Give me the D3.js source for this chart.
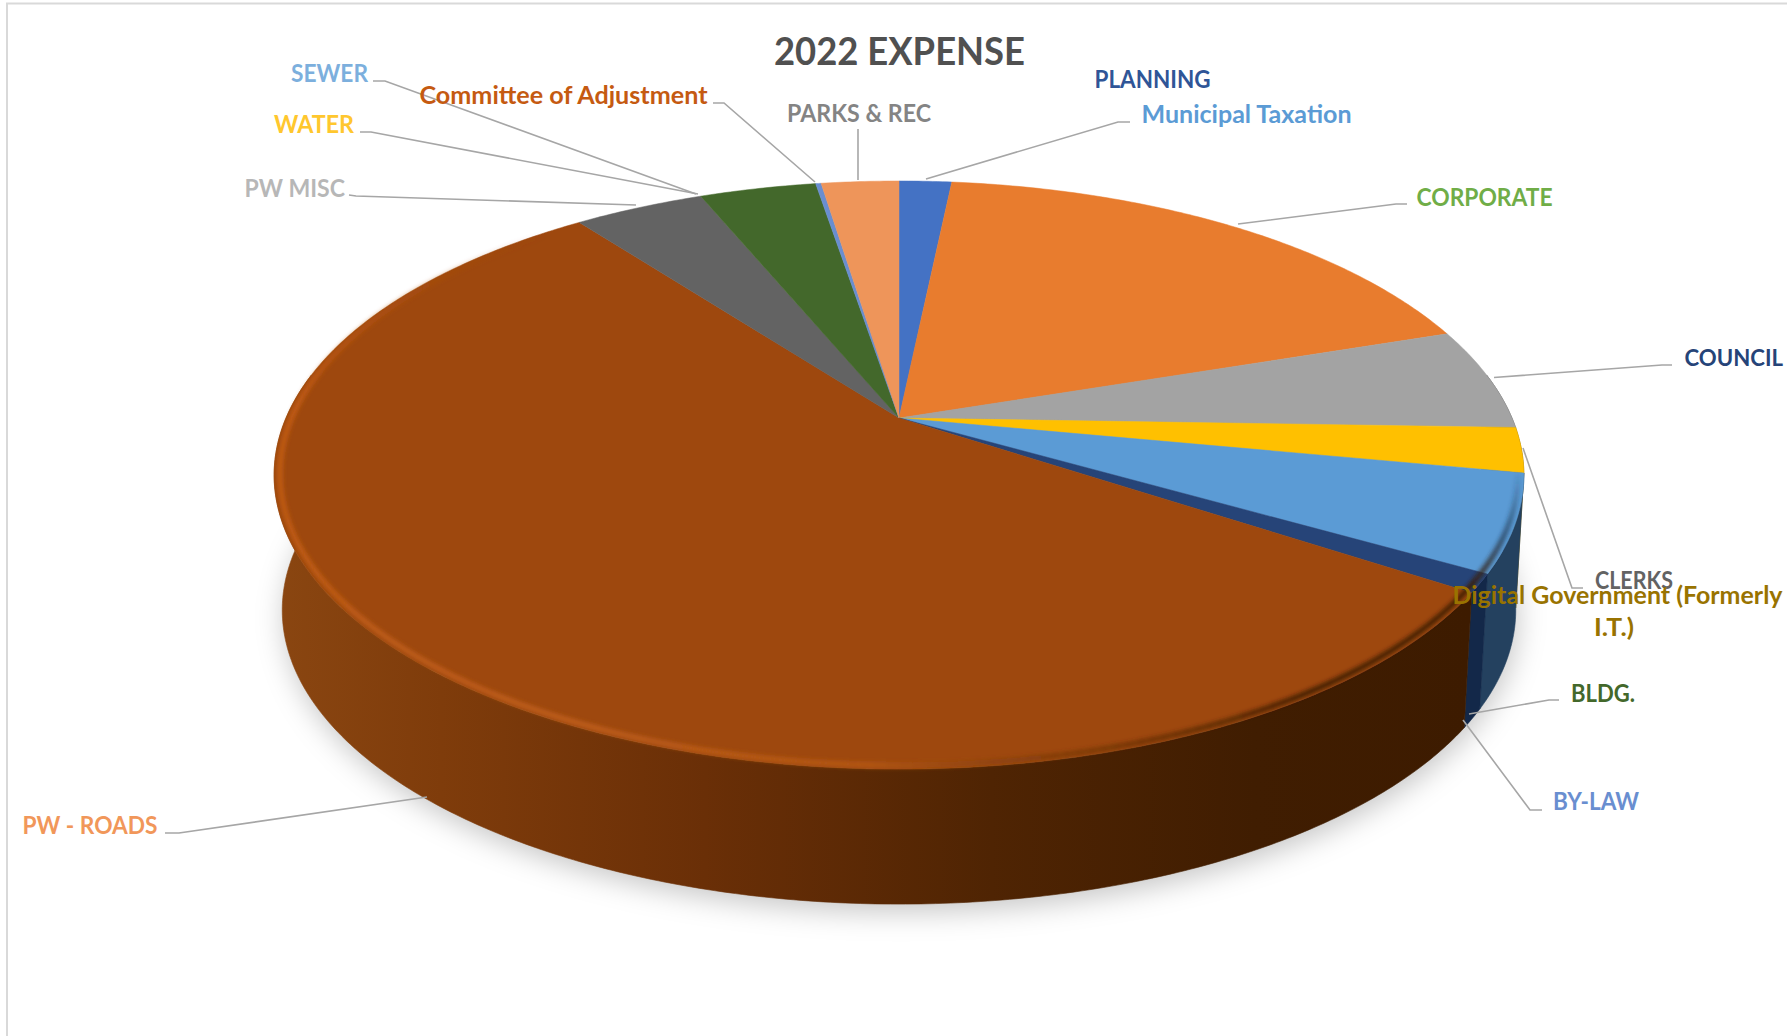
<!DOCTYPE html>
<html>
<head>
<meta charset="utf-8">
<script src="https://cdn.jsdelivr.net/npm/d3@7/dist/d3.min.js"></script>
<style>
  html, body { margin: 0; padding: 0; background: #fff; }
  text { font-family: Lato, "Open Sans", sans-serif; font-weight: 700; }
</style>
</head>
<body>
<svg id="chart" width="1787" height="1036"></svg>
<script>
// Budget categories in clockwise order from twelve o'clock, share of the total in percent.
const categories = ["Municipal Taxation", "CORPORATE", "COUNCIL", "CLERKS", "Digital Government (Formerly I.T.)",
  "BLDG.", "BY-LAW", "PW - ROADS", "PW MISC", "WATER", "SEWER", "PLANNING", "Committee of Adjustment", "PARKS & REC"];
const values = [1.64, 18.25, 5.64, 2.47, 5.3, 0, 1.0, 55.42, 4.06, 0, 0, 3.64, 0.17, 2.42];
const sliceColors = ["#4472C4", "#E87C2E", "#A3A3A3", "#FFC000", "#5B9BD5", "#43682B", "#264478",
  "#9E480E", "#636363", "#997300", "#255E91", "#43682B", "#698ED0", "#EE955A"];
const wallColors = ["#223962", "#743e17", "#525252", "#7f6000", "#24415f", "#223416", "#132849",
  "url(#roadsWall)", "#313131", "#4c3900", "#122f48", "#223416", "#344768", "#774a2d"];

const W = 1787, H = 1036;
const svg = d3.select("#chart");
const defs = svg.append("defs");

// Perspective disc: unit circle mapped by a projective transform about the apex.
const apex = { x: 899, y: 418 };
const persp = { a: 283, c: 613, k: -0.194 };
const wallDepth = 135, baseShrink = 0.987;

function topPoint(theta, r = 1) {
  const px = r * Math.sin(theta), py = -r * Math.cos(theta);
  const w = 1 + persp.k * py;
  return [apex.x + persp.c * px / w, apex.y + persp.a * py / w];
}
function basePoint(theta) {
  const [x, y] = topPoint(theta);
  return [apex.x + (x - apex.x) * baseShrink, y + wallDepth];
}
const thetas = (a, b) => {
  const n = Math.max(2, Math.ceil((b - a) / 0.01));
  return d3.range(n + 1).map(i => a + (b - a) * i / n);
};
const line = d3.line();

const pie = d3.pie().sort(null).value(d => d.value).startAngle(0).endAngle(2 * Math.PI);
const rows = categories.map((name, i) => ({ name, value: values[i], fill: sliceColors[i], wall: wallColors[i] }));
const arcs = pie(rows);

// Gradients and filters
const roads = defs.append("linearGradient").attr("id", "roadsWall").attr("gradientUnits", "userSpaceOnUse")
  .attr("x1", 274).attr("x2", 1470).attr("y1", 0).attr("y2", 0);
[[0, "#8a4611"], [0.14, "#7f3c0b"], [0.36, "#6a2f07"], [0.6, "#4f2403"], [0.82, "#401d01"], [1, "#3d1b00"]]
  .forEach(([o, c]) => roads.append("stop").attr("offset", o).attr("stop-color", c));

defs.append("filter").attr("id", "softShadow").attr("x", "-10%").attr("y", "-10%").attr("width", "120%").attr("height", "120%")
  .append("feGaussianBlur").attr("stdDeviation", 14);
defs.append("filter").attr("id", "softRim").attr("x", "-5%").attr("y", "-5%").attr("width", "110%").attr("height", "110%")
  .append("feGaussianBlur").attr("stdDeviation", 2.2);

// Sheet border along the top and left
svg.append("path").attr("d", line([[7, H], [7, 3.5], [W, 3.5]]))
  .attr("fill", "none").attr("stroke", "#d9d9d9").attr("stroke-width", 2);

// Ground shadow beneath the disc
svg.append("path")
  .attr("d", line(thetas(0, 2 * Math.PI).map(t => basePoint(t))) + "Z")
  .attr("transform", "translate(2,8)")
  .attr("fill", "#000").attr("fill-opacity", 0.22).attr("filter", "url(#softShadow)");

// Side wall of every slice that faces the viewer
const visibleFrom = Math.PI * 0.45, visibleTo = Math.PI * 1.55;
svg.append("g").selectAll("path")
  .data(arcs.filter(a => a.value > 0 && a.endAngle > visibleFrom && a.startAngle < visibleTo))
  .join("path")
  .attr("d", a => {
    const ts = thetas(Math.max(a.startAngle, visibleFrom), Math.min(a.endAngle, visibleTo));
    return line(ts.map(t => topPoint(t)).concat(ts.slice().reverse().map(t => basePoint(t)))) + "Z";
  })
  .attr("fill", a => a.data.wall)
  .attr("stroke", a => a.data.wall).attr("stroke-width", 0.6);

// Upper face of the pie
svg.append("g").selectAll("path")
  .data(arcs.filter(a => a.value > 0))
  .join("path")
  .attr("d", a => line([[apex.x, apex.y]].concat(thetas(a.startAngle, a.endAngle).map(t => topPoint(t)))) + "Z")
  .attr("fill", a => a.data.fill)
  .attr("stroke", a => a.data.fill).attr("stroke-width", 0.5);

// Soft bevel along the rim: dark on the right, bright along the front, fading away up the left
const degrees = d3.range(100, 318, 1);
const bevelColor = d3.scaleLinear()
  .domain([100, 112, 122, 146, 166, 182, 205, 272, 292, 318])
  .range(["#22384f", "#22384f", "#3d1b00", "#3d1b00", "#6a3208", "#b85a18", "#c2601c", "#c35c16", "#b4530f", "#9E480E"]);
const bevelOpacity = d3.scaleLinear()
  .domain([100, 112, 122, 146, 166, 182, 272, 292, 318])
  .range([0, 0.7, 0.95, 0.95, 0.6, 0.9, 1, 0.7, 0]);
svg.append("g").attr("filter", "url(#softRim)").selectAll("path").data(degrees).join("path")
  .attr("d", d => line(thetas(d * Math.PI / 180, (d + 1.1) * Math.PI / 180).map(t => topPoint(t, 0.991))))
  .attr("fill", "none").attr("stroke-width", 5)
  .attr("stroke", bevelColor).attr("stroke-opacity", bevelOpacity);

// Leader lines from each label to the spot it touches on the disc
const leaders = [
  [[1130, 122], [1118, 122], [926, 179]],
  [[1407, 204], [1396, 204], [1238, 224]],
  [[1672, 365], [1662, 365], [1494, 377.5]],
  [[1583, 588], [1572, 588], [1523, 448]],
  [[1559, 700], [1549, 700], [1469, 714]],
  [[1542, 810], [1530, 810], [1463, 720]],
  [[165, 833], [179, 833], [427, 797]],
  [[349, 195], [356, 196], [636, 205]],
  [[360, 132], [371, 132], [698, 194]],
  [[373, 81], [385, 81], [696, 194]],
  [[713, 103], [724, 103], [815, 182]],
  [[858, 129], [858, 130], [858, 180]]
];
svg.append("g").selectAll("path").data(leaders).join("path")
  .attr("d", d => line(d))
  .attr("fill", "none").attr("stroke", "#a6a6a6").attr("stroke-width", 1.6);

// Title and category labels: left edge, baseline, rendered width
const labels = [
  { t: "2022 EXPENSE", x: 774, y: 65, w: 251, size: 38, color: "#505050" },
  { t: "SEWER", x: 291, y: 81.5, w: 77, size: 24, color: "#7CAFDD" },
  { t: "Committee of Adjustment", x: 419.5, y: 103.5, w: 288, size: 24, color: "#C55A11" },
  { t: "WATER", x: 274, y: 132.5, w: 80, size: 24, color: "#FFC72E" },
  { t: "PARKS & REC", x: 787, y: 121.5, w: 144, size: 24, color: "#848484" },
  { t: "PW MISC", x: 244.5, y: 196.5, w: 100.5, size: 24, color: "#B7B7B7" },
  { t: "PLANNING", x: 1094.5, y: 87.5, w: 116, size: 24, color: "#2F5597" },
  { t: "Municipal Taxation", x: 1141.5, y: 122.5, w: 210, size: 24, color: "#5B9BD5" },
  { t: "CORPORATE", x: 1416.5, y: 206, w: 136, size: 24, color: "#70AD47" },
  { t: "COUNCIL", x: 1684.5, y: 366, w: 98.5, size: 23, color: "#264478" },
  { t: "CLERKS", x: 1595, y: 589, w: 78, size: 24, color: "#636363" },
  { t: "Digital Government (Formerly", x: 1452.5, y: 604, w: 330, size: 24, color: "#997300" },
  { t: "I.T.)", x: 1594, y: 636, w: 40, size: 24, color: "#997300" },
  { t: "BLDG.", x: 1571, y: 702, w: 64, size: 24, color: "#43682B" },
  { t: "BY-LAW", x: 1553, y: 810, w: 86, size: 24, color: "#698ED0" },
  { t: "PW - ROADS", x: 22.5, y: 833.5, w: 135, size: 24, color: "#F1975A" }
];
svg.append("g").selectAll("text").data(labels).join("text")
  .attr("x", d => d.x).attr("y", d => d.y)
  .attr("font-size", d => d.size).attr("fill", d => d.color)
  .attr("textLength", d => d.w).attr("lengthAdjust", "spacingAndGlyphs")
  .text(d => d.t);
</script>
</body>
</html>
